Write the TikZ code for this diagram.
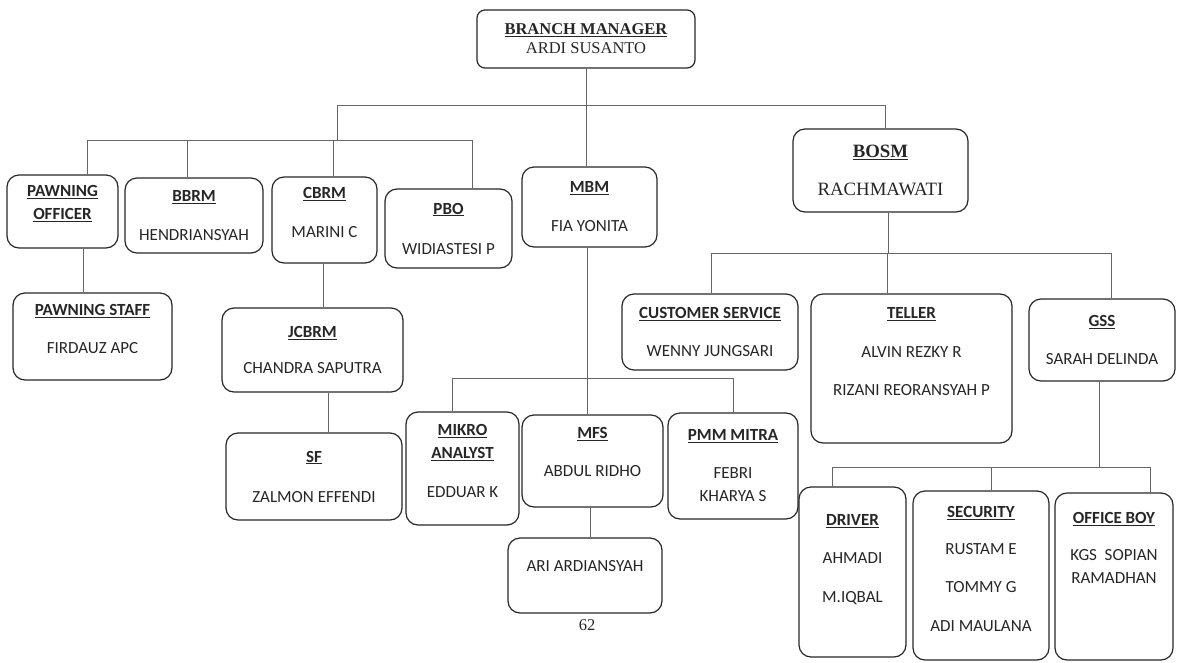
\documentclass[tikz,border=0pt]{standalone}
\usepackage{fontspec}
\setmainfont{Carlito}
\newfontfamily\serifface{Liberation Serif}
\usetikzlibrary{positioning}
\newcommand{\ttl}[1]{\underline{\textbf{#1}}}
\tikzset{
  unitbox/.style={draw=black!85, line width=1.2pt, rounded corners=12pt,
    align=center, text=black!85, inner sep=2pt,
    font=\fontsize{17}{23}\selectfont},
  headbox/.style={unitbox, rounded corners=8pt,
    font=\serifface\fontsize{16.5}{19}\selectfont},
  sized/.style 2 args={minimum width=#1pt, minimum height=#2pt},
  lift/.style={text depth=#1pt},
  link/.style={draw=black!60, line width=0.8pt},
}
\begin{document}
\begin{tikzpicture}[x=1pt, y=-1pt]
  \useasboundingbox (0,0) rectangle (1181,662);
  \begin{scope}[every node/.style={unitbox}]
    % top
    \node[headbox, sized={218}{58}] (bm) at (586,39) {\ttl{BRANCH MANAGER}\\ARDI SUSANTO};
    \node[headbox, sized={175}{83}, rounded corners=12pt,
      font=\serifface\fontsize{18.8}{22}\selectfont] (bosm) at (880.5,170.5) {\ttl{BOSM}\\[16pt]RACHMAWATI};
    \node[sized={135}{80}] (mbm) at (589.5,207) {\ttl{MBM}\\[16pt]FIA YONITA};
    % left branch
    \node[sized={111}{73}, lift=18] (po) at (62.5,211.5) {\ttl{PAWNING}\\\ttl{OFFICER}};
    \node[sized={138}{75}] (bbrm) at (194,215.5) {\ttl{BBRM}\\[16pt]HENDRIANSYAH};
    \node[sized={105}{86}, lift=15] (cbrm) at (324.5,220) {\ttl{CBRM}\\[16pt]MARINI C};
    \node[sized={127}{79}] (pbo) at (448.5,228.5) {\ttl{PBO}\\[17pt]WIDIASTESI P};
    \node[sized={159}{87}, lift=15] (ps) at (92.5,336.5) {\ttl{PAWNING STAFF}\\[15pt]FIRDAUZ APC};
    \node[sized={181}{84}] (jcbrm) at (312.5,350) {\ttl{JCBRM}\\[13pt]CHANDRA SAPUTRA};
    \node[sized={176}{87}] (sf) at (314,476.5) {\ttl{SF}\\[17pt]ZALMON EFFENDI};
    % mbm branch
    \node[sized={113}{113}, lift=15] (mikro) at (462.5,468.5) {\ttl{MIKRO}\\\ttl{ANALYST}\\[16pt]EDDUAR K};
    \node[sized={141}{92}, lift=18] (mfs) at (592.5,461) {\ttl{MFS}\\[15pt]ABDUL RIDHO};
    \node[sized={130}{106}] (pmm) at (733,466) {\ttl{PMM MITRA}\\[15pt]FEBRI\\KHARYA S};
    \node[sized={154}{75}, lift=20] (ari) at (585,575.5) {ARI ARDIANSYAH};
    % bosm branch
    \node[sized={176}{76}] (cs) at (710,332) {\ttl{CUSTOMER SERVICE}\\[15pt]WENNY JUNGSARI};
    \node[sized={201}{149}, lift=34] (teller) at (911.5,368.5) {\ttl{TELLER}\\[16pt]ALVIN REZKY R\\[15pt]RIZANI REORANSYAH P};
    \node[sized={146}{82}] (gss) at (1102,340) {\ttl{GSS}\\[15pt]SARAH DELINDA};
    \node[sized={107}{170}, lift=27] (driver) at (852.5,572) {\ttl{DRIVER}\\[15pt]AHMADI\\[16pt]M.IQBAL};
    \node[sized={136}{169}, lift=13] (security) at (981,575.5) {\ttl{SECURITY}\\[14pt]RUSTAM E\\[15pt]TOMMY G\\[16pt]ADI MAULANA};
    \node[sized={118}{167}, lift=57] (oboy) at (1114,576.5) {\ttl{OFFICE BOY}\\[14pt]KGS~~SOPIAN\\RAMADHAN};
  \end{scope}
  \node[font=\serifface\fontsize{16.5}{19}\selectfont, text=black!85] (pg) at (587,625) {62};

  % branch manager level
  \coordinate (hubL) at (337,105);
  \coordinate (hubR) at (885,105);
  \draw[link] (bm.south) -- (bm.south |- mbm.north);
  \draw[link] (hubL) -- (hubR) -- (hubR |- bosm.north);
  \coordinate (barL) at (337,140);
  \draw[link] (hubL) -- (barL);
  \foreach \xx/\nn in {87/po,187/bbrm,333/cbrm,472/pbo}{
    \coordinate (d\nn) at (\xx,140);
    \draw[link] (d\nn) -- (d\nn |- \nn.north);
  }
  \draw[link] (dpo) -- (dpbo);
  \draw[link] (83,0 |- po.south) -- (83,0 |- ps.north);
  \draw[link] (323,0 |- cbrm.south) -- (323,0 |- jcbrm.north);
  \draw[link] (328,0 |- jcbrm.south) -- (328,0 |- sf.north);

  % mbm
  \coordinate (mbarL) at (452,378);
  \coordinate (mbarR) at (733,378);
  \draw[link] (587,0 |- mbm.south) -- (587,0 |- mfs.north);
  \draw[link] (mbarL |- mikro.north) -- (mbarL) -- (mbarR) -- (mbarR |- pmm.north);
  \draw[link] (590,0 |- mfs.south) -- (590,0 |- ari.north);

  % bosm
  \coordinate (bbarL) at (711,253);
  \coordinate (bbarR) at (1111,253);
  \draw[link] (888,0 |- bosm.south) -- (888,253);
  \draw[link] (bbarL |- cs.north) -- (bbarL) -- (bbarR) -- (bbarR |- gss.north);
  \draw[link] (887,253) -- (887,0 |- teller.north);

  % gss
  \coordinate (gbarL) at (832,467);
  \coordinate (gbarR) at (1150,467);
  \draw[link] (1099,0 |- gss.south) -- (1099,467);
  \draw[link] (gbarL |- driver.north) -- (gbarL) -- (gbarR) -- (gbarR |- oboy.north);
  \draw[link] (991,467) -- (991,0 |- security.north);
\end{tikzpicture}
\end{document}
